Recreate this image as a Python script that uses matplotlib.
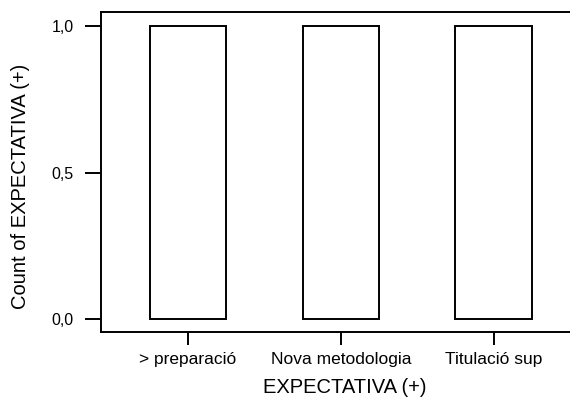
import matplotlib
matplotlib.use('Agg')
import matplotlib.pyplot as plt

plt.rcParams['font.family'] = ['Liberation Sans', 'DejaVu Sans']

categories = ['> preparació', 'Nova metodologia', 'Titulació sup']
counts = [1.0, 1.0, 1.0]
yticks = [0.0, 0.5, 1.0]
ytick_labels = ['0,0', '0,5', '1,0']

fig = plt.figure(figsize=(5.7, 4.03), dpi=100)
ax = fig.add_axes([0.177, 0.176, 0.823, 0.794])

x = list(range(len(categories)))
ax.bar(x, counts, width=0.5, color='white', edgecolor='black', linewidth=1.4)

ax.set_xlim(-0.57, 2.5)
ax.set_ylim(-0.044, 1.048)
ax.set_xticks(x)
ax.set_xticklabels(categories, fontsize=12.5)
ax.set_yticks(yticks)
ax.set_yticklabels(ytick_labels, fontsize=11.5)
ax.tick_params(axis='x', length=9.5, width=1.4, direction='out', pad=5)
ax.tick_params(axis='y', length=11.5, width=1.4, direction='out', pad=8)

for s in ['left', 'top', 'bottom']:
    ax.spines[s].set_linewidth(1.4)
ax.spines['right'].set_visible(False)

ax.set_xlabel('EXPECTATIVA (+)', fontsize=14.5)
ax.set_ylabel('Count of EXPECTATIVA (+)', fontsize=14.5)
ax.xaxis.set_label_coords(0.52, -0.145)
ax.yaxis.set_label_coords(-0.152, 0.456)

fig.savefig('out.png', dpi=100)
plt.close(fig)
